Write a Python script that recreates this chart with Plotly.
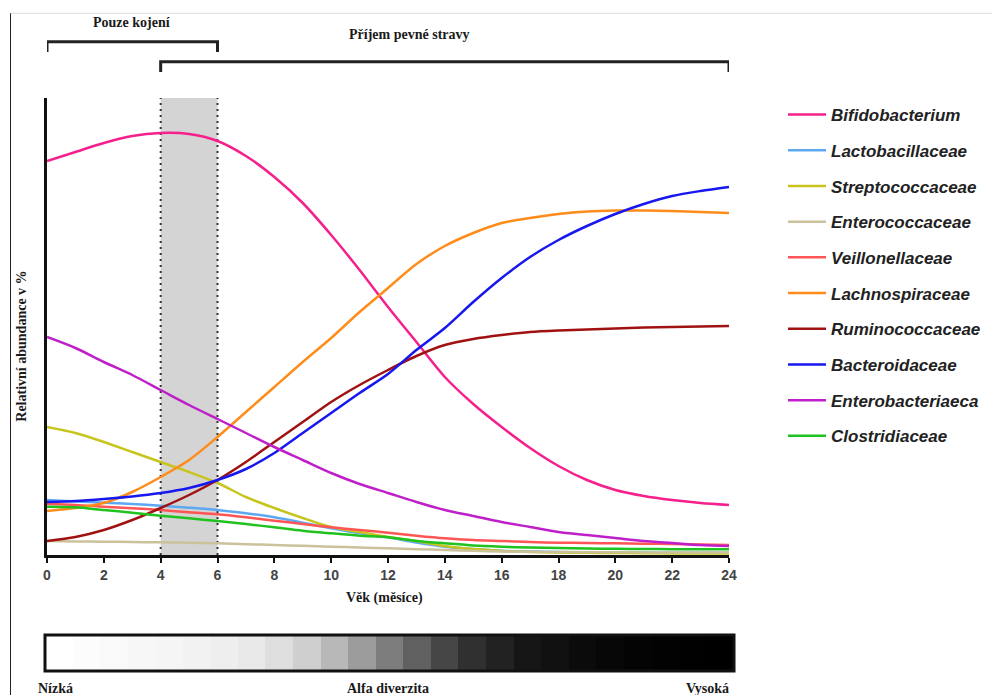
import plotly.graph_objects as go

# ---------------- data (relative abundance, arbitrary units) ----------------
months = list(range(25))

bifidobacterium = [394, 403, 412, 419, 422, 421, 414, 399, 378, 352, 320, 285, 248,
                   213, 178, 151, 128, 107, 89, 75, 65, 59, 55, 52, 50]
lactobacillaceae = [55, 53.5, 52.3, 51, 49.3, 47.3, 45, 41.7, 37.7, 32.3, 26.7, 21.7, 17.7,
                    12.5, 8.3, 6, 4.3, 3.5, 3, 2.7, 2.5, 2.4, 2.3, 2.3, 2.3]
streptococcaceae = [128, 122, 113, 103, 93, 83, 72, 58, 47, 37, 28, 23, 18,
                    14, 9, 6, 4, 3, 2.5, 2.2, 2, 1.8, 1.6, 1.5, 1.5]
enterococcaceae = [14, 13.6, 13.3, 13, 12.7, 12.2, 11.7, 10.8, 10, 9.2, 8.3, 7.5, 6.7,
                   5.8, 5, 4.2, 3.5, 3.2, 3, 2.8, 2.7, 2.6, 2.5, 2.5, 2.5]
veillonellaceae = [51, 50, 48.3, 46.7, 45, 42.7, 40.7, 37.7, 34.3, 31, 27.7, 25, 22.3,
                   19.3, 16.7, 15, 14, 13, 12.3, 12, 11.7, 11.3, 11, 10.5, 10]
lachnospiraceae = [44, 47, 52, 63, 78, 95, 118, 143, 168, 193, 217, 243, 267,
                   291, 309, 322, 332, 337, 341, 343.5, 344.5, 344.5, 344, 343, 342]
ruminococcaceae = [14, 18, 25, 35, 47, 60, 75, 93, 113, 133, 153, 170, 185,
                   199, 210, 216, 220, 223, 224.5, 225.5, 226.5, 227.5, 228, 228.5, 229]
bacteroidaceae = [53, 54, 56, 58.5, 62, 67, 75, 86, 102, 122, 142, 162, 181,
                  205, 227, 253, 277, 298, 315, 329, 341, 351, 359, 364, 368]
enterobacteriaeca = [218, 207, 193, 180, 165, 150, 136, 122, 108, 95, 82, 71, 62,
                     53, 45, 39, 33, 28, 23, 20, 17, 14, 12, 10, 9]
clostridiaceae = [48.3, 47.7, 45, 42.3, 39.3, 36.7, 34, 31, 27.7, 24.3, 21.7, 19.3, 17.7,
                  14, 11.7, 9.5, 8.3, 7.5, 7, 6.5, 6.2, 6, 5.8, 5.7, 5.7]

series_names = ["Bifidobacterium", "Lactobacillaceae", "Streptococcaceae", "Enterococcaceae",
                "Veillonellaceae", "Lachnospiraceae", "Ruminococcaceae", "Bacteroidaceae",
                "Enterobacteriaeca", "Clostridiaceae"]
series_values = [bifidobacterium, lactobacillaceae, streptococcaceae, enterococcaceae,
                 veillonellaceae, lachnospiraceae, ruminococcaceae, bacteroidaceae,
                 enterobacteriaeca, clostridiaceae]
series_colors = ["#f5208c", "#5ea8f2", "#c8c41e", "#cbc29c", "#ff5555", "#ff8c1a",
                 "#a01212", "#1717f0", "#bf1fc8", "#1fc21f"]

# alpha diversity scale (grey level per step: 255 = white, 0 = black)
diversity_grey = [255, 252, 249, 247, 245, 242, 238, 233, 222, 207, 184, 156, 125,
                  96, 70, 48, 34, 22, 17, 11, 7, 4, 2, 1, 0]

x_ticks = list(range(0, 25, 2))

# ---------------- figure ----------------
W, H = 992, 695
ML, MR, MT, MB = 45, 258, 98, 23
main_x_dom = [(47 - ML) / (W - ML - MR), (729 - ML) / (W - ML - MR)]
PH = H - MT - MB


def py(pix):
    return (H - MB - pix) / PH


def px(pix):
    return (pix - ML) / (W - ML - MR)


fig = go.Figure()

for name, vals, col in zip(series_names, series_values, series_colors):
    fig.add_trace(go.Scatter(
        x=months, y=vals, name=name, mode="lines", legendgroup=name,
        line=dict(color=col, width=2.5, shape="spline", smoothing=0.8),
        xaxis="x", yaxis="y", hoverinfo="skip",
    ))

fig.add_trace(go.Heatmap(
    z=[diversity_grey], x=list(range(len(diversity_grey))), y=[0],
    colorscale=[[0, "rgb(0,0,0)"], [1, "rgb(255,255,255)"]],
    zmin=0, zmax=255, showscale=False, xaxis="x2", yaxis="y2", hoverinfo="skip",
))

serif = "Liberation Serif, Times New Roman, serif"
sans = "Liberation Sans, Arial, sans-serif"
txt_col = "#1a1a1a"

shapes = [
    # shaded exclusive breast-feeding band
    dict(type="rect", xref="x", yref="y domain", x0=4, x1=6, y0=0, y1=1,
         fillcolor="#d4d4d4", line=dict(width=0), layer="below"),
    dict(type="line", xref="x", yref="y domain", x0=4, x1=4, y0=0, y1=1,
         line=dict(color="#333", width=2, dash="2px,4px"), layer="below"),
    dict(type="line", xref="x", yref="y domain", x0=6, x1=6, y0=0, y1=1,
         line=dict(color="#333", width=2, dash="2px,4px"), layer="below"),
    # brackets
    dict(type="path", xref="x", yref="paper",
         path=f"M 0,{py(52)} L 0,{py(41.7)} L 6,{py(41.7)} L 6,{py(52)}",
         line=dict(color="#222", width=3)),
    dict(type="path", xref="x", yref="paper",
         path=f"M 4,{py(72)} L 4,{py(61.7)} L 24,{py(61.7)} L 24,{py(72)}",
         line=dict(color="#222", width=3)),
    # frame of the diversity bar
    dict(type="rect", xref="x2 domain", yref="y2 domain", x0=0, x1=1, y0=0, y1=1,
         line=dict(color="#111", width=3), fillcolor="rgba(0,0,0,0)"),
    # page border lines
    dict(type="line", xref="paper", yref="paper", x0=px(10.5), x1=px(992), y0=py(13.3), y1=py(13.3),
         line=dict(color="#dddddd", width=1)),
    dict(type="line", xref="paper", yref="paper", x0=px(10.5), x1=px(10.5), y0=py(13.3), y1=py(695),
         line=dict(color="#222", width=1)),
]


def label(text, x, y, xref="paper", size=14, angle=0):
    return dict(text=f"<b>{text}</b>", xref=xref, yref="paper", x=x, y=y,
                xanchor="center", yanchor="middle", textangle=angle, showarrow=False,
                font=dict(family=serif, size=size, color=txt_col))


annotations = [
    label("Pouze kojení", 3, py(22.7), xref="x"),
    label("Příjem pevné stravy", px(409), py(35)),
    label("Relativní abundance v %", px(20.7), py(346), angle=-90),
    label("Věk (měsíce)", px(384), py(598)),
    label("Nízká", px(55), py(688)),
    label("Alfa diverzita", px(388), py(688)),
    label("Vysoká", px(707), py(688)),
]

fig.update_layout(
    width=W, height=H, autosize=False,
    margin=dict(l=ML, r=MR, t=MT, b=MB, pad=0),
    paper_bgcolor="white", plot_bgcolor="rgba(0,0,0,0)",
    showlegend=True,
    legend=dict(xref="container", yref="container",
                x=783 / W, y=1 - 97 / H, xanchor="left", yanchor="top",
                font=dict(family=sans, size=17, color="#222", weight="bold", style="italic"),
                tracegroupgap=10.6, itemwidth=38, maxheight=650,
                bgcolor="rgba(0,0,0,0)", borderwidth=0),
    xaxis=dict(domain=main_x_dom, range=[0, 24], anchor="y",
               tickmode="array", tickvals=x_ticks, ticktext=[str(t) for t in x_ticks],
               ticks="outside", ticklen=5, tickwidth=2, tickcolor="#111",
               showline=True, linecolor="#111", linewidth=2.5,
               showgrid=False, zeroline=False,
               tickfont=dict(family=sans, size=14, color="#444", weight="bold")),
    yaxis=dict(domain=[py(555), 1], range=[0, 457], anchor="x",
               showline=True, linecolor="#111", linewidth=2.5,
               showticklabels=False, ticks="", showgrid=False, zeroline=False),
    xaxis2=dict(domain=[0, 1], range=[-0.5, len(diversity_grey) - 0.5], anchor="y2",
                visible=False, showgrid=False, zeroline=False),
    yaxis2=dict(domain=[py(671), py(635)], range=[-0.5, 0.5], anchor="x2",
                visible=False, showgrid=False, zeroline=False),
    shapes=shapes,
    annotations=annotations,
)

fig.write_html("out.html", config={"displayModeBar": False},
               post_script="document.body.style.margin='0px';")
